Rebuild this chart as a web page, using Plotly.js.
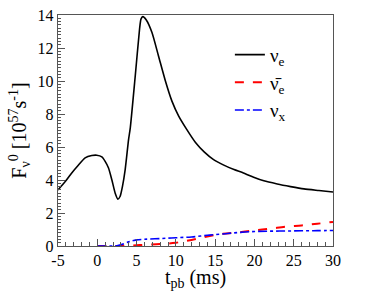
<!DOCTYPE html>
<html>
<head>
<meta charset="utf-8">
<script src="https://cdn.plot.ly/plotly-3.0.1.min.js"></script>
<style>html,body{margin:0;padding:0;background:#fff;}#chart{width:376px;height:291px;}</style>
</head>
<body>
<div id="chart"></div>
<script>
const tNuE = [-5, -4, -3.25, -2.5, -1.55, -0.7, -0.06, 0.58, 1.0, 1.43, 1.86, 2.28, 2.62, 2.9, 3.2, 3.55, 3.98, 4.2, 4.83, 5.38, 5.56, 5.8, 6.24, 6.96, 7.8, 8.67, 9.5, 10.36, 11.4, 12.5, 13.6, 14.8, 16.1, 17.4, 18.6, 19.9, 21.2, 22.9, 24.6, 26.3, 28.2, 30];
const fNuE = [3.4, 3.95, 4.43, 4.85, 5.34, 5.48, 5.5, 5.4, 5.13, 4.73, 4.0, 3.2, 2.84, 3.0, 3.6, 4.63, 6.45, 7.16, 10.3, 13.15, 13.75, 13.9, 13.7, 12.94, 11.5, 10.0, 8.78, 7.87, 7.05, 6.27, 5.7, 5.23, 4.9, 4.63, 4.43, 4.17, 3.95, 3.76, 3.6, 3.46, 3.36, 3.27];
const tAnti = [0, 2, 4, 6, 8, 10, 12, 14, 16, 18, 20, 22, 24, 26, 28, 30];
const fAnti = [0, 0, 0.02, 0.07, 0.12, 0.2, 0.37, 0.58, 0.74, 0.83, 0.95, 1.05, 1.17, 1.25, 1.35, 1.46];
const tNuX = [0, 2, 2.5, 3, 4, 4.6, 5, 6, 8, 10, 12, 14, 16, 18, 20, 22, 24, 26, 28, 30];
const fNuX = [0, 0, 0.02, 0.08, 0.25, 0.33, 0.37, 0.41, 0.45, 0.5, 0.55, 0.65, 0.73, 0.82, 0.88, 0.9, 0.91, 0.92, 0.93, 0.94];
const names = ['\u03bd<sub>e</sub>', '\u03bd\u0304<sub>e</sub>', '\u03bd<sub>x</sub>'];
const xTicks = [-5, 0, 5, 10, 15, 20, 25, 30];
const yTicks = [0, 2, 4, 6, 8, 10, 12, 14];

const font = "'Liberation Serif', 'Times New Roman', serif";
const traces = [
  {x: tNuE, y: fNuE, name: names[0], mode: 'lines', line: {color: 'black', width: 1.6, shape: 'spline', smoothing: 0.6}},
  {x: tAnti, y: fAnti, name: names[1], mode: 'lines', line: {color: 'rgb(255,0,0)', width: 2, dash: 'dash', shape: 'spline'}},
  {x: tNuX, y: fNuX, name: names[2], mode: 'lines', line: {color: 'rgb(0,0,255)', width: 1.6, dash: 'dashdot', shape: 'spline'}}
];
const axisCommon = {
  showgrid: false, zeroline: false, showline: true, mirror: true, linecolor: '#555', linewidth: 1.2,
  ticks: 'inside', ticklen: 7, tickcolor: '#555', tickwidth: 1,
  tickfont: {family: font, size: 16, color: 'black'}
};
const layout = {
  width: 376, height: 291,
  margin: {l: 58, r: 43, t: 15, b: 45},
  paper_bgcolor: 'white', plot_bgcolor: 'white',
  font: {family: font, color: 'black'},
  showlegend: true,
  legend: {x: 0.625, y: 0.91, xanchor: 'left', yanchor: 'top', bgcolor: 'rgba(0,0,0,0)', font: {family: font, size: 19, color: 'black'}, tracegroupgap: 0, itemwidth: 30},
  xaxis: Object.assign({}, axisCommon, {
    range: [-5, 30], tickvals: xTicks, ticktext: xTicks.map(String),
    minor: {dtick: 1, ticks: 'inside', ticklen: 4, tickcolor: '#555'},
    title: {text: 't<sub>pb</sub> (ms)', font: {family: font, size: 20, color: 'black'}, standoff: 2}
  }),
  yaxis: Object.assign({}, axisCommon, {
    range: [0, 14], tickvals: yTicks, ticktext: yTicks.map(String),
    minor: {dtick: 0.2, ticks: 'inside', ticklen: 3, tickcolor: '#555'},
    title: {text: 'F<sub>\u03bd</sub><sup>0</sup> [10<sup>57</sup>s<sup>-1</sup>]', font: {family: font, size: 20, color: 'black'}, standoff: 5}
  })
};
Plotly.newPlot('chart', traces, layout, {staticPlot: true, displayModeBar: false});
</script>
</body>
</html>
